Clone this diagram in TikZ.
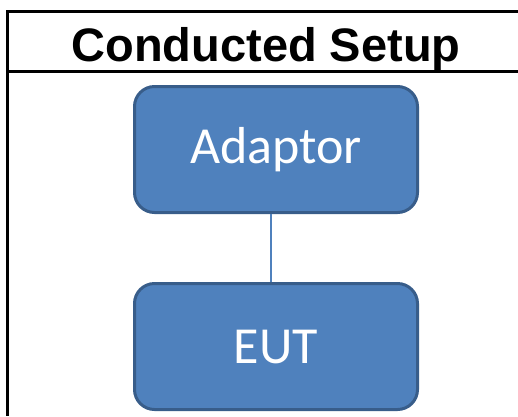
\documentclass[tikz,border=0pt]{standalone}
\usepackage{fontspec}
\usepackage{tikz}
\usetikzlibrary{positioning}
\newfontfamily\headfont{Liberation Sans}
\newfontfamily\boxfont{Carlito}
\definecolor{boxfill}{HTML}{4F81BD}
\definecolor{boxline}{HTML}{385D8A}

\begin{document}
\begin{tikzpicture}[
  x=1pt, y=-1pt,
  node distance = 68pt,
  unitbox/.style = {
      draw=boxline, fill=boxfill, line width=3pt, rounded corners=20pt,
      minimum width=283pt, minimum height=126pt,
      text=white, font=\boxfont\fontsize{52}{56}\selectfont
  },
  link/.style = {draw=boxfill, line width=2pt}
]
  \useasboundingbox (0,0) rectangle (518,416);
  % frame of the table
  \draw[line width=3pt] (518,11) -- (7,11) -- (7,416);
  \draw[line width=3pt] (7,71) -- (518,71);
  \node[anchor=base] (title) at (266,61) {\headfont\bfseries\fontsize{47}{52}\selectfont Conducted Setup};
  % units
  \node[unitbox] (adaptor) at (276,149.5) {Adaptor};
  \node[unitbox, below=of adaptor] (eut) {EUT};
  \draw[link] ([xshift=-5pt]adaptor.south) -- ([xshift=-5pt]eut.north);
\end{tikzpicture}
\end{document}
